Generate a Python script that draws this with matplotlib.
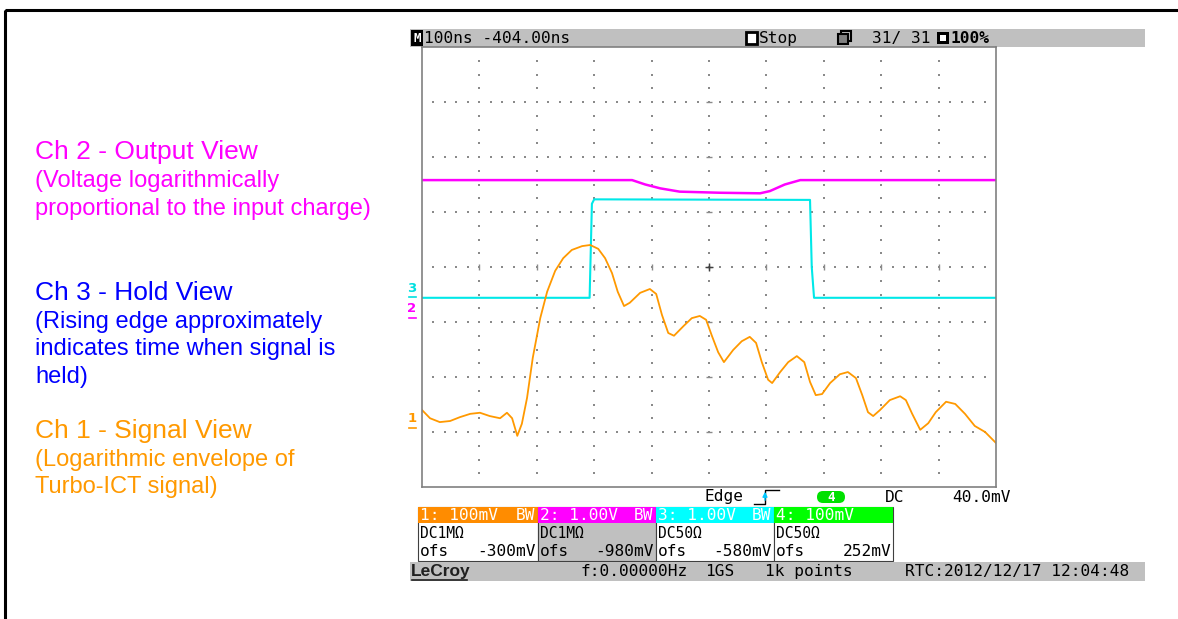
import numpy as np
import matplotlib.pyplot as plt
from matplotlib.patches import Rectangle, FancyBboxPatch

# --- trace data: time in ns (100 ns/div, 10 div), level in screen divisions (0..8) ---
ch1_t = [0, 14, 31, 49, 66, 84, 101, 118, 136, 148, 157, 166, 174, 183, 193, 206, 218, 232,
         246, 261, 279, 293, 307, 319, 331, 341, 352, 362, 380, 397, 408, 418, 429, 439, 456,
         470, 484, 495, 505, 516, 526, 542, 557, 571, 582, 592, 603, 610, 624, 638, 653, 666,
         676, 686, 697, 711, 728, 742, 756, 767, 777, 786, 798, 815, 833, 843, 854, 868, 882,
         895, 913, 929, 946, 963, 981, 1000]
ch1_v = [1.40, 1.25, 1.18, 1.20, 1.27, 1.33, 1.35, 1.29, 1.25, 1.35, 1.25, 0.93, 1.15, 1.62,
         2.35, 3.07, 3.55, 3.93, 4.16, 4.31, 4.38, 4.40, 4.33, 4.16, 3.89, 3.55, 3.29, 3.35,
         3.53, 3.60, 3.51, 3.13, 2.80, 2.75, 2.93, 3.07, 3.11, 3.04, 2.75, 2.45, 2.27, 2.49,
         2.65, 2.73, 2.62, 2.27, 1.95, 1.89, 2.09, 2.27, 2.38, 2.27, 1.91, 1.67, 1.69, 1.89,
         2.05, 2.09, 1.98, 1.67, 1.36, 1.29, 1.40, 1.58, 1.65, 1.58, 1.33, 1.04, 1.16, 1.36,
         1.55, 1.51, 1.33, 1.11, 1.00, 0.80]

ch2_t = [0, 366, 389, 415, 449, 519, 589, 606, 632, 659, 1000]
ch2_v = [5.58, 5.58, 5.50, 5.43, 5.37, 5.35, 5.34, 5.38, 5.50, 5.58, 5.58]

ch3_t = [0, 292, 296, 300, 676, 679, 683, 1000]
ch3_v = [3.44, 3.44, 5.15, 5.23, 5.22, 4.00, 3.44, 3.44]

# channel offset markers (div)
markers = [("3", 3.45, "#00E0E0"), ("2", 3.07, "#FF00FF"), ("1", 1.07, "#FF9900")]

# status texts
header_texts = ["100ns -404.00ns", "Stop", "31/ 31", "100%"]
trig_texts = ["Edge", "4", "DC", "40.0mV"]
box_heads = ["1: 100mV", "2: 1.00V", "3: 1.00V", "4: 100mV"]
box_bw = ["BW", "BW", "BW", ""]
box_coupling = ["DC1M\u03a9", "DC1M\u03a9", "DC50\u03a9", "DC50\u03a9"]
box_offset = ["-300mV", "-980mV", "-580mV", "252mV"]
box_colors = ["#FF8C00", "#FF00FF", "#00FFFF", "#00FF00"]
footer_texts = ["f:0.00000Hz", "1GS", "1k points", "RTC:2012/12/17 12:04:48"]

notes = [
    ("Ch 2 - Output View", ["(Voltage logarithmically", "proportional to the input charge)"], "#FF00FF", 152),
    ("Ch 3 - Hold View", ["(Rising edge approximately", "indicates time when signal is", "held)"], "#0000FF", 293),
    ("Ch 1 - Signal View", ["(Logarithmic envelope of", "Turbo-ICT signal)"], "#FF9900", 431),
]

W, H = 1178, 619
fig = plt.figure(figsize=(W / 100, H / 100), dpi=100)
fig.patch.set_facecolor("white")

# overlay in pixel coordinates for the surrounding decoration
ov = fig.add_axes([0, 0, 1, 1], zorder=0)
ov.set_xlim(0, W)
ov.set_ylim(H, 0)
ov.axis("off")

ov.add_patch(Rectangle((5, 10), W + 10, H, fill=False, lw=2.2, ec="black"))

mono = "DejaVu Sans Mono"
fs = 11.6

# header bar
ov.add_patch(Rectangle((410, 29), 735, 18, fc="#C0C0C0", ec="none"))
ov.add_patch(Rectangle((411, 30), 12, 16, fc="black", ec="none"))
ov.text(417, 38.5, "M", color="white", fontsize=9, fontweight="bold", family=mono, ha="center", va="center")
ov.text(424, 38.5, header_texts[0], fontsize=fs, family=mono, va="center")
ov.add_patch(Rectangle((746, 32), 11, 12, fc="white", ec="black", lw=2))
ov.text(759, 38.5, header_texts[1], fontsize=fs, family=mono, va="center")
ov.add_patch(Rectangle((841, 31), 10, 10, fc="#C0C0C0", ec="black", lw=1.5))
ov.add_patch(Rectangle((838, 34), 10, 10, fc="#808080", ec="black", lw=1.5))
ov.text(872, 38.5, header_texts[2], fontsize=fs, family=mono, va="center")
ov.add_patch(Rectangle((937, 32), 12, 12, fc="black", ec="none"))
ov.add_patch(Rectangle((940, 35), 6, 6, fc="white", ec="none"))
ov.text(951, 38.5, header_texts[3], fontsize=fs, family=mono, va="center", fontweight="bold")

# trigger row
ov.text(705, 497, trig_texts[0], fontsize=fs, family=mono, va="center")
ov.plot([754, 765, 765, 779], [504, 504, 490, 490], color="black", lw=1)
ov.annotate("", xy=(765, 489), xytext=(765, 503),
            arrowprops=dict(arrowstyle="-|>", color="#00C8FF", lw=1, mutation_scale=7))
ov.add_patch(FancyBboxPatch((817, 491), 28, 12, boxstyle="round,pad=0,rounding_size=6",
                            fc="#00E000", ec="none"))
ov.text(831, 497.5, trig_texts[1], fontsize=9, family=mono, va="center", ha="center",
        color="white", fontweight="bold")
ov.text(885, 497, trig_texts[2], fontsize=fs, family=mono, va="center")
ov.text(952, 497, trig_texts[3], fontsize=fs, family=mono, va="center")

# channel boxes
bx = [418, 538, 656, 774, 893]
for i in range(4):
    x0, x1 = bx[i], bx[i + 1]
    body = "#C0C0C0" if i == 1 else "white"
    ov.add_patch(Rectangle((x0, 507), x1 - x0, 54, fc=body, ec="#404040", lw=0.8))
    ov.add_patch(Rectangle((x0, 507), x1 - x0, 16, fc=box_colors[i], ec="none"))
    ov.text(x0 + 2, 515.5, box_heads[i], fontsize=fs, family=mono, va="center", color="white")
    if box_bw[i]:
        ov.text(x1 - 3, 515.5, box_bw[i], fontsize=fs, family=mono, va="center", ha="right",
                color="white")
    ov.text(x0 + 2, 533, box_coupling[i], fontsize=10.5, family=mono, va="center")
    ov.text(x0 + 2, 551, "ofs", fontsize=fs, family=mono, va="center")
    ov.text(x1 - 2, 551, box_offset[i], fontsize=fs, family=mono, va="center", ha="right")

# footer bar
ov.add_patch(Rectangle((410, 562), 735, 19, fc="#C0C0C0", ec="none"))
ov.text(411, 571.5, "LeCroy", fontsize=12.5, family="Liberation Sans", fontweight="bold",
        va="center", color="#202020")
ov.plot([412, 467], [580, 580], color="#202020", lw=1.2)
for txt, xp in zip(footer_texts, [580, 705, 765, 905]):
    ov.text(xp, 571.5, txt, fontsize=fs, family=mono, va="center")

# left annotations
for title, lines, col, yc in notes:
    ov.text(35, yc, title, fontsize=19, family="Liberation Sans", color=col, va="center")
    for k, ln in enumerate(lines):
        ov.text(35, yc + 29 + 27.5 * k, ln, fontsize=17, family="Liberation Sans",
                color=col, va="center")

# --- scope screen ---
ax = fig.add_axes([422 / W, (H - 487) / H, 574 / W, 440 / H], zorder=1)
ax.set_xlim(0, 1000)
ax.set_ylim(0, 8)
ax.set_xticks([])
ax.set_yticks([])
for sp in ax.spines.values():
    sp.set_color("#808080")
    sp.set_linewidth(1.2)

dot = "#8a8a8a"
for i in range(1, 10):
    yy = np.arange(1, 32) / 4.0
    ax.scatter(np.full_like(yy, i * 100.0), yy, s=1.6, marker="s", c=dot, lw=0)
for k in range(1, 8):
    xx = np.arange(1, 50) * 20.0
    ax.scatter(xx, np.full_like(xx, float(k)), s=1.6, marker="s", c=dot, lw=0)
ax.scatter(np.arange(1, 10) * 100.0, np.full(9, 4.0), s=25, marker="|", c=dot, lw=1)
ax.scatter(np.full(7, 500.0), np.arange(1, 8), s=25, marker="_", c=dot, lw=1)
ax.scatter([500], [4], s=30, marker="+", c="#404040", lw=1)

ax.plot(ch2_t, ch2_v, color="#FF00FF", lw=1.8)
ax.plot(ch3_t, ch3_v, color="#00E8E8", lw=1.5)
ax.plot(ch1_t, ch1_v, color="#FF9900", lw=1.3)

for lab, lv, col in markers:
    ax.text(-10, lv + 0.05, lab, color=col, fontsize=9.5, fontweight="bold", ha="right",
            va="bottom", clip_on=False)
    ax.plot([-22, -10], [lv, lv], color=col, lw=1.2, clip_on=False)

fig.savefig("out.png", dpi=100)
